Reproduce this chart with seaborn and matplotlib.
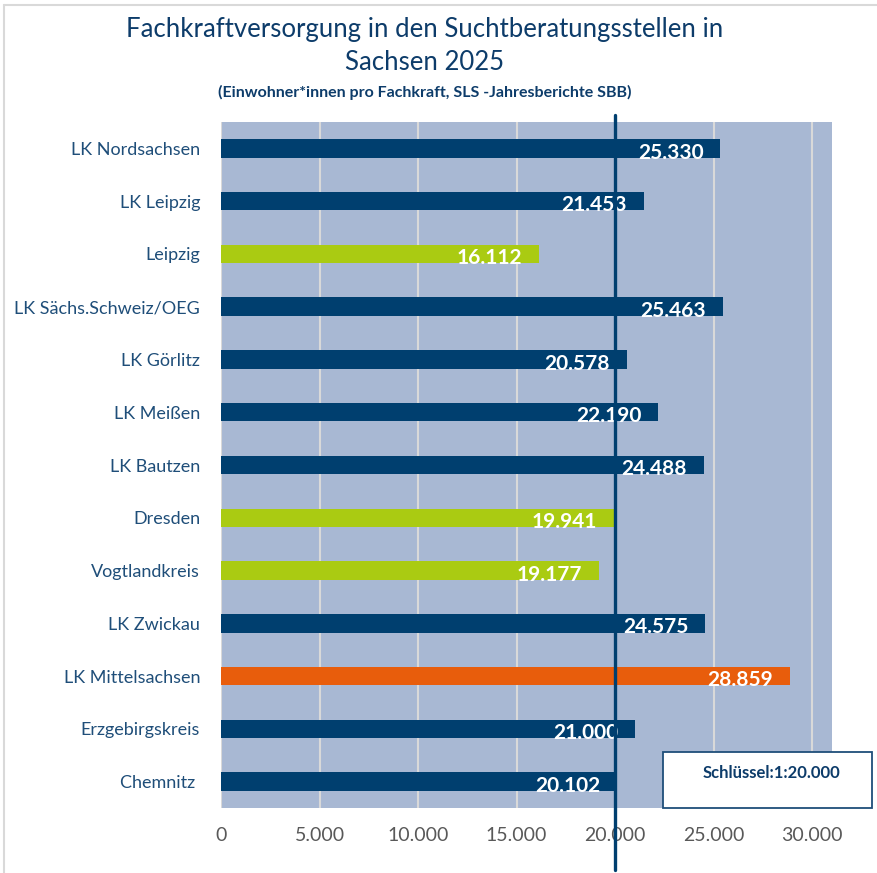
import matplotlib
matplotlib.use('Agg')
import matplotlib.pyplot as plt
import seaborn as sns
from matplotlib.patches import Rectangle
from matplotlib.lines import Line2D

# ---------- Daten ----------
regionen = ['LK Nordsachsen', 'LK Leipzig', 'Leipzig', 'LK Sächs.Schweiz/OEG',
            'LK Görlitz', 'LK Meißen', 'LK Bautzen', 'Dresden', 'Vogtlandkreis',
            'LK Zwickau', 'LK Mittelsachsen', 'Erzgebirgskreis', 'Chemnitz ']
einwohner_pro_fk = [25330, 21453, 16112, 25463, 20578, 22190, 24488,
                    19941, 19177, 24575, 28859, 21000, 20102]
gruppe = ['lk', 'lk', 'stadt', 'lk', 'lk', 'lk', 'lk',
          'stadt', 'stadt', 'lk', 'max', 'lk', 'lk']
schluessel = 20000
x_ticks = [0, 5000, 10000, 15000, 20000, 25000, 30000]

NAVY = '#003F6F'
farben = {'lk': NAVY, 'stadt': '#AACB12', 'max': '#E85D0C'}
TXT = '#1F4E79'

sns.set_theme(style='white')
plt.rcParams['font.family'] = ['Lato', 'DejaVu Sans']

fig = plt.figure(figsize=(8.78, 8.73), dpi=100)
ax = fig.add_axes([221/878, 1 - 808/873, 611/878, 686/873])
ax.set_facecolor('#A8B8D3')

sns.barplot(x=einwohner_pro_fk, y=regionen, hue=gruppe, palette=farben,
            dodge=False, width=0.35, legend=False, ax=ax, zorder=2,
            saturation=1, linewidth=0)

ax.set_xlim(0, 31000)
ax.set_ylim(12.5, -0.5)
ax.set_xticks(x_ticks)
ax.set_xticklabels([f'{t:,}'.replace(',', '.') for t in x_ticks],
                   fontsize=14, color='#595959')
ax.tick_params(axis='x', length=0, pad=14)
ax.tick_params(axis='y', length=0, pad=15, labelsize=13, labelcolor=TXT)
ax.set_xlabel('')
ax.set_ylabel('')
ax.grid(axis='x', color='#D9D9D9', linewidth=1.5, zorder=1)
ax.set_axisbelow(True)
for s in ax.spines.values():
    s.set_visible(False)

# Werte in den Balken
for i, v in enumerate(einwohner_pro_fk):
    ax.annotate(f'{v:,}'.replace(',', '.'), xy=(v, i), xytext=(-12, -3),
                textcoords='offset points', ha='right', va='center',
                color='white', fontsize=15, fontweight='bold', zorder=3)

# Schlüssel-Linie
ax.plot([schluessel, schluessel], [1.01, -0.09], color=NAVY, lw=2.4,
        transform=ax.get_xaxis_transform(), clip_on=False, zorder=4)

# Titel
fig.text(425/878, 1 - 30/873, 'Fachkraftversorgung in den Suchtberatungsstellen in',
         ha='center', va='center', fontsize=18.5, color='#0D3C6A')
fig.text(425/878, 1 - 63/873, 'Sachsen 2025', ha='center', va='center',
         fontsize=18.5, color='#0D3C6A')
fig.text(425/878, 1 - 92/873, '(Einwohner*innen pro Fachkraft, SLS -Jahresberichte SBB)',
         ha='center', va='center', fontsize=11.5, fontweight='bold', color='#0D3C6A')

# Schlüssel-Box
fig.patches.append(Rectangle((663/878, 1 - 808/873), 209/878, 56/873,
                             transform=fig.transFigure, facecolor='white',
                             edgecolor='#1F4E79', lw=1.3, zorder=5))
fig.text(771/878, 1 - 773/873, 'Schlüssel:1:20.000', ha='center', va='center',
         fontsize=12, fontweight='bold', color='#0D3C6A', zorder=6)

# Rahmen
fig.lines.append(Line2D([4/878, 4/878], [0, 1 - 5/873], transform=fig.transFigure,
                        color='#D9D9D9', lw=1.5))
fig.lines.append(Line2D([4/878, 1], [1 - 5/873, 1 - 5/873], transform=fig.transFigure,
                        color='#D9D9D9', lw=1.5))

fig.savefig('out.png', dpi=100)
